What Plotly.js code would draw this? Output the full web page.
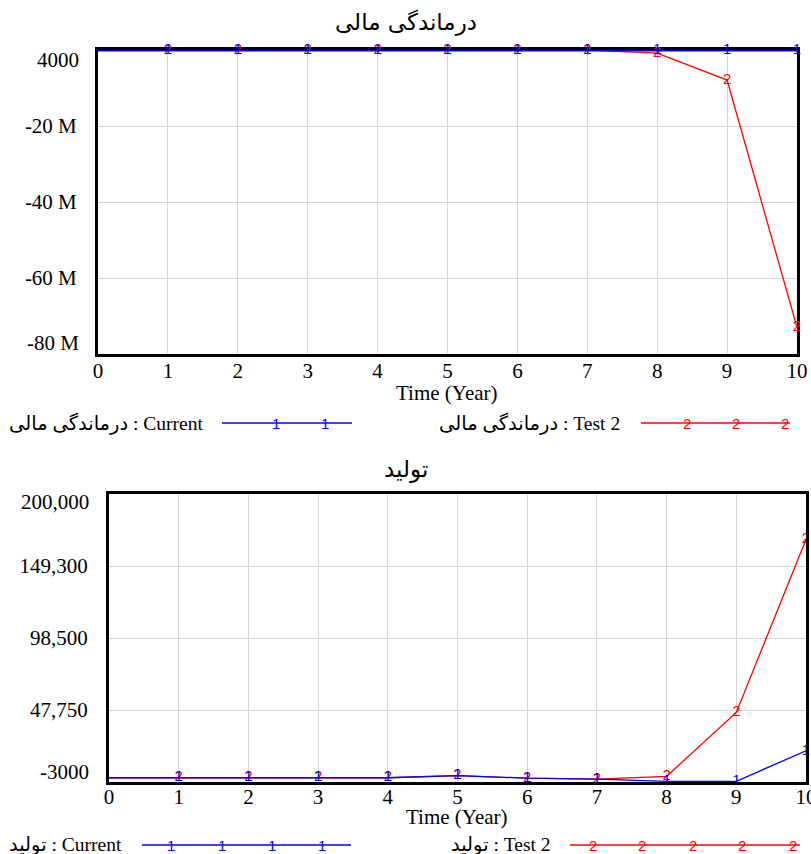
<!DOCTYPE html>
<html>
<head>
<meta charset="utf-8">
<script src="https://cdn.plot.ly/plotly-3.0.1.min.js"></script>
<style>
  html, body { margin: 0; padding: 0; background: #ffffff; }
  #chart { width: 811px; height: 854px; }
</style>
</head>
<body>
<div id="chart"></div>
<script>
// Simulation time axis (years)
const years = [0, 1, 2, 3, 4, 5, 6, 7, 8, 9, 10];

// درماندگی مالی (financial distress)
const distressCurrent = [0, 0, 0, 0, 0, 0, 0, 0, 0, 0, 0];
const distressTest2 = [0, 0, 0, 0, 0, 0, 0, 0, -800000, -7900000, -73000000];

// تولید (production)
const productionCurrent = [0, 0, 0, 0, 0, 1500, -300, -1000, -2500, -2500, 19000];
const productionTest2 = [0, 0, 0, 0, 0, 1500, -300, -1000, 1000, 46000, 168000];

// Run markers drawn on each line
const currentMarks = ['', '1', '1', '1', '1', '1', '1', '1', '1', '1', '1'];
const test2Marks = ['', '2', '2', '2', '2', '2', '2', '2', '2', '2', '2'];

// Axis ticks
const xTicks = [0, 1, 2, 3, 4, 5, 6, 7, 8, 9, 10];
const distressTickVals = [-80000000, -60000000, -40000000, -20000000, 4000];
const distressTickText = ['-80 M', '-60 M', '-40 M', '-20 M', '4000'];
const productionTickVals = [-3000, 47750, 98500, 149250, 200000];
const productionTickText = ['-3000', '47,750', '98,500', '149,300', '200,000'];

// Titles and legend labels
const distressTitle = 'درماندگی مالی';
const productionTitle = 'تولید';
const timeTitle = 'Time (Year)';
const distressLegend = ['درماندگی مالی : Current', 'درماندگی مالی : Test 2'];
const productionLegend = ['تولید : Current', 'تولید : Test 2'];

const W = 811, H = 854;
const px = v => v / W;
const py = v => 1 - v / H;

const RED = '#ff0000';
const BLUE = '#0000ff';
const SERIF = 'Liberation Serif, "Times New Roman", DejaVu Sans, serif';
const ARABIC = 'DejaVu Sans, Liberation Sans, sans-serif';
const MARKFONT = 'Liberation Sans, Arial, sans-serif';
const TICKSIZE = 21;

function series(x, y, marks, color, xa, ya, width) {
  return {
    type: 'scatter', mode: 'lines+text',
    x: x, y: y, text: marks, textposition: 'middle center',
    textfont: { family: MARKFONT, size: 15, color: color },
    line: { color: color, width: width },
    xaxis: xa, yaxis: ya, cliponaxis: false, hoverinfo: 'x+y'
  };
}

const traces = [
  series(years, distressTest2, test2Marks, RED, 'x', 'y', 1.3),
  series(years, distressCurrent, currentMarks, BLUE, 'x', 'y', 3),
  series(years, productionTest2, test2Marks, RED, 'x2', 'y2', 1.3),
  series(years, productionCurrent, currentMarks, BLUE, 'x2', 'y2', 1.3)
];

const axisCommon = {
  showgrid: true, gridcolor: '#d4d4d4', gridwidth: 1,
  showline: true, linecolor: '#000000', linewidth: 3, mirror: true,
  zeroline: false, ticks: '', automargin: false, ticklabeloverflow: 'allow',
  tickfont: { family: SERIF, size: TICKSIZE, color: '#000000' }
};

// End labels of each value axis are placed just inside the frame (annotations below)
const innerText = (arr) => arr.map((t, i) => (i === 0 || i === arr.length - 1) ? '' : t);

const xTop = Object.assign({}, axisCommon, {
  domain: [px(98), px(797)], range: [0, 10], anchor: 'y', layer: 'below traces',
  tickmode: 'array', tickvals: xTicks, ticktext: xTicks.map(String),
  ticklabelstandoff: -4
});
const yTop = Object.assign({}, axisCommon, {
  domain: [py(354), py(50)], range: [-80000000, 4000], anchor: 'x', layer: 'below traces',
  tickmode: 'array', tickvals: distressTickVals, ticktext: innerText(distressTickText),
  ticklabelstandoff: 14
});
const xBot = Object.assign({}, axisCommon, {
  domain: [px(109), px(806)], range: [0, 10], anchor: 'y2',
  tickmode: 'array', tickvals: xTicks, ticktext: xTicks.map(String),
  ticklabelstandoff: -6
});
const yBot = Object.assign({}, axisCommon, {
  domain: [py(782), py(494)], range: [-3000, 200000], anchor: 'x2',
  tickmode: 'array', tickvals: productionTickVals, ticktext: innerText(productionTickText),
  ticklabelstandoff: 14
});

const shapes = [];
const annotations = [];

function axisEndLabels(vals, texts, yref, rightEdge, shiftLow, shiftHigh) {
  [[0, shiftLow], [vals.length - 1, shiftHigh]].forEach(([i, s]) => annotations.push({
    xref: 'paper', yref: yref, x: px(rightEdge), y: vals[i], yshift: s,
    xanchor: 'right', yanchor: 'middle', showarrow: false, text: texts[i],
    font: { family: SERIF, size: TICKSIZE, color: '#000000' }
  }));
}
axisEndLabels(distressTickVals, distressTickText, 'y', 81, 11, -10);
axisEndLabels(productionTickVals, productionTickText, 'y2', 91, 10, -8);

// Time axis titles
function timeLabel(cx, cy) {
  annotations.push({
    xref: 'paper', yref: 'paper', x: px(cx), y: py(cy),
    xanchor: 'center', yanchor: 'middle', showarrow: false, text: timeTitle,
    font: { family: SERIF, size: TICKSIZE, color: '#000000' }
  });
}
timeLabel(447, 393);
timeLabel(457, 817);

// Legend rows: label, sample line and run markers
function legendEntry(label, rightEdge, lineFrom, lineTo, markXs, mark, color, rowY) {
  annotations.push({
    xref: 'paper', yref: 'paper', x: px(rightEdge), y: py(rowY),
    xanchor: 'right', yanchor: 'middle', showarrow: false, text: label,
    font: { family: SERIF, size: 19.5, color: '#000000' }
  });
  shapes.push({
    type: 'line', xref: 'paper', yref: 'paper',
    x0: px(lineFrom), x1: px(lineTo), y0: py(rowY), y1: py(rowY),
    line: { color: color, width: 1.3 }
  });
  markXs.forEach(mx => annotations.push({
    xref: 'paper', yref: 'paper', x: px(mx), y: py(rowY),
    xanchor: 'center', yanchor: 'middle', showarrow: false, text: mark,
    font: { family: MARKFONT, size: 15, color: color }
  }));
}

legendEntry(distressLegend[0], 205, 222, 352, [276, 325], '1', BLUE, 423);
legendEntry(distressLegend[1], 622, 641, 790, [687, 736, 785], '2', RED, 423);
legendEntry(productionLegend[0], 124, 142, 351, [171, 222, 272, 322], '1', BLUE, 845);
legendEntry(productionLegend[1], 553, 570, 800, [593, 642, 693, 742, 793], '2', RED, 845);

// Second chart title
annotations.push({
  xref: 'paper', yref: 'paper', x: px(406), y: py(470),
  xanchor: 'center', yanchor: 'middle', showarrow: false, text: productionTitle,
  font: { family: ARABIC, size: 23, color: '#000000' }
});

const layout = {
  width: W, height: H,
  margin: { l: 0, r: 0, t: 0, b: 0, pad: 0 },
  paper_bgcolor: '#ffffff', plot_bgcolor: '#ffffff',
  showlegend: false,
  font: { family: SERIF, size: TICKSIZE, color: '#000000' },
  title: {
    text: distressTitle, x: px(406), xanchor: 'center', y: py(22), yanchor: 'middle',
    xref: 'paper', yref: 'paper',
    font: { family: ARABIC, size: 23, color: '#000000' }
  },
  xaxis: xTop, yaxis: yTop, xaxis2: xBot, yaxis2: yBot,
  shapes: shapes, annotations: annotations
};

Plotly.newPlot('chart', traces, layout, { displayModeBar: false, staticPlot: true });
</script>
</body>
</html>
